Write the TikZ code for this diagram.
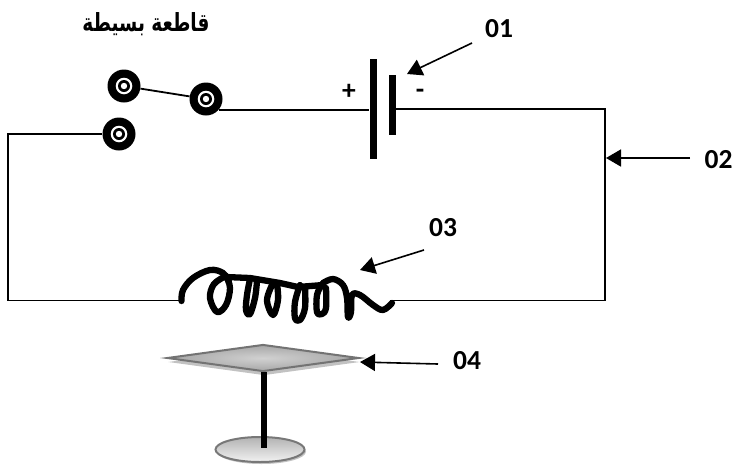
\documentclass[tikz,border=0pt]{standalone}
\usepackage{graphicx}
\usepackage{fontspec}
\setmainfont{Carlito}
\newfontfamily\arabicfont[Script=Arabic]{DejaVu Sans}
\TeXXeTstate=1
\usetikzlibrary{arrows.meta,shapes.geometric,shadows}
\tikzset{
  wire/.style={draw=black,line width=1.8pt},
  plate/.style={draw=none,fill=black,minimum width=7pt,inner sep=0pt},
  pointer/.style={draw=black,line width=1.6pt,-{Triangle[length=15pt,width=17pt]}},
  lab/.style={font=\fontsize{27.5}{27.5}\selectfont\bfseries,inner sep=0pt,text=black},
  terminal/.style={circle,fill=black,minimum size=33pt,inner sep=0pt,
    path picture={
      \fill[white] (path picture bounding box.center) circle (8.3pt);
      \fill[black] (path picture bounding box.center) circle (6pt);
      \fill[white] (path picture bounding box.center) circle (3.2pt);
    }},
  coilline/.style={line width=6.3pt,line cap=round,line join=round,draw=black},
  loopcurve/.style={smooth,tension=0.6}
}
\begin{document}
\begin{tikzpicture}[x=1pt,y=-1pt]
\useasboundingbox (0,0) rectangle (733,464);
\coordinate (tr) at (605,109);
\coordinate (br) at (605,300.5);
\coordinate (cr) at (390,300.5);
\coordinate (tl) at (8,134);
\coordinate (bl) at (8,300.5);
\coordinate (cl) at (182,300.5);
\node[plate,minimum height=100pt] (plateL) at (373,109) {};
\node[plate,minimum height=60pt] (plateS) at (392,105) {};
\node[terminal] (swA) at (124,86) {};
\node[terminal] (swB) at (206,99) {};
\node[terminal] (swC) at (119,134) {};
\draw[wire] (swA) -- (swB);
\draw[wire] (swB.-40) -- (plateL.west |- swB.-40);
\draw[wire] (plateS.east |- tr) -- (tr) -- (br) -- (cr);
\draw[wire] (swC) -- (tl) -- (bl) -- (cl);
% coil
\draw[coilline] plot[loopcurve] coordinates {(181.5,301) (183,290) (193,278) (210,270) (223,273) (229,282)};
\draw[coilline] plot[loopcurve] coordinates {(226,276) (214,284) (210,298) (217,312) (226,305) (230,288) (226,276)};
\draw[coilline] (226,277) -- (250,278) -- (280,283) -- (298,287) -- (323,285);
\draw[coilline] plot[loopcurve] coordinates {(250,279) (247,295) (246,310) (250,314) (255,298) (257,281)};
\draw[coilline] plot[loopcurve] coordinates {(273,283) (267,300) (273,315) (278,300) (277,284)};
\draw[coilline] plot[loopcurve] coordinates {(300,285) (295,302) (295,318) (300,320) (305,308) (305,287)};
\draw[coilline] plot[loopcurve] coordinates {(322,284) (317,295) (317,312) (322,314) (326,308) (326,288)};
\draw[coilline] plot[loopcurve] coordinates {(323,283) (333,279) (343,285) (347,298) (348,317) (351,312) (352,295) (360,295) (373,305) (383,310) (392,303)};
% pointers
\coordinate (a1) at (472,43); \coordinate (t1) at (407,74);
\coordinate (a2) at (690,158); \coordinate (t2) at (606,158);
\coordinate (a3) at (424,250); \coordinate (t3) at (360,270);
\coordinate (a4) at (438,364); \coordinate (t4) at (360,362);
\draw[pointer] (a1) -- (t1);
\draw[pointer] (a2) -- (t2);
\draw[pointer] (a3) -- (t3);
\draw[pointer] (a4) -- (t4);
% stand
\node[ellipse,draw={rgb,255:red,120;green,120;blue,120},line width=2pt,minimum width=89pt,minimum height=25pt,
  inner sep=0pt,top color=black!30,bottom color=black!5,
  drop shadow={shadow xshift=1.5pt,shadow yshift=-2pt,fill=black!40,opacity=0.6}] (base) at (260,449.5) {};
\node[diamond,draw={rgb,255:red,115;green,115;blue,115},line width=2pt,minimum width=192pt,minimum height=27pt,
  aspect=7,inner sep=0pt,inner color=black!18,outer color=black!35,
  drop shadow={shadow xshift=1pt,shadow yshift=-4pt,fill=black!40,opacity=0.6}] (disc) at (263,358) {};
\coordinate (stemEnd) at (264,448);
\draw[black,line width=6pt] (264,372) -- (stemEnd);
% labels
\node[lab] (l1) at (499,29) {01};
\node[lab] (l2) at (718.5,160) {02};
\node[lab] (l3) at (443,228) {03};
\node[lab] (l4) at (467,361) {04};
\node[lab] (plus) at (349,92) {+};
\node[lab] (minus) at (420,94) {-};
\node[inner sep=0pt] (title) at (146,24) {\scalebox{1}[1.35]{\arabicfont\bfseries\fontsize{18.5}{18.5}\selectfont\beginR قاطعة بسيطة\endR}};
\end{tikzpicture}
\end{document}
